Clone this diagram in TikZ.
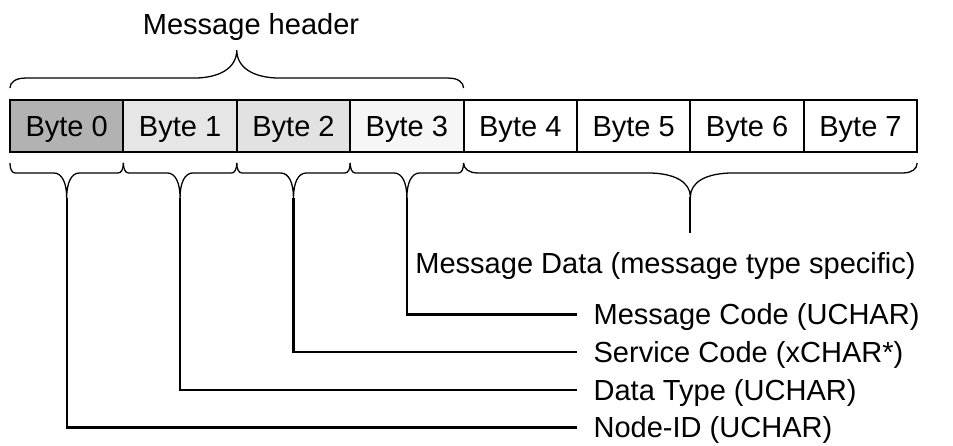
\documentclass[tikz,border=0pt]{standalone}
\usepackage{fontspec}
\setmainfont{Liberation Sans}
\usepackage{tikz}
\usetikzlibrary{calc}
\definecolor{hdrdark}{HTML}{B2B2B2}
\definecolor{hdrmid}{HTML}{E6E6E6}
\definecolor{hdrmidb}{HTML}{E2E2E2}
\definecolor{hdrlight}{HTML}{F6F6F6}
\newcommand{\fieldfont}{\fontsize{10.2}{12}\selectfont}
\tikzset{
  bytecell/.style={draw=black, line width=.7pt, minimum width=1.4cm, minimum height=.642cm,
    inner sep=0pt, outer sep=0pt, font=\fieldfont, text height=.716em, text depth=0pt},
  fieldtext/.style={font=\fieldfont, inner xsep=5.6pt, inner ysep=0pt, text height=.716em, text depth=0pt},
  leader/.style={black, line width=.75pt},
  curly/.style={black, line width=.45pt}
}
% #1,#2 end x, #3 end y, #4 signed tip height, #5 hook width, #6 middle width, #7 tip name
\newcommand{\fieldbrace}[7]{%
  \pgfmathsetmacro{\hk}{0.123*sign(#4)}%
  \pgfmathsetmacro{\xm}{(#1+#2)/2}%
  \coordinate (#7) at (\xm,#3+\hk+#4);
  \draw[curly] (#1,#3) .. controls (#1,#3+0.6*\hk) and (#1+0.4*#5,#3+\hk) .. (#1+#5,#3+\hk)
    -- (\xm-#6,#3+\hk) .. controls (\xm-0.35*#6,#3+\hk) and (\xm,#3+\hk+0.4*#4) .. (#7)
    .. controls (\xm,#3+\hk+0.4*#4) and (\xm+0.35*#6,#3+\hk) .. (\xm+#6,#3+\hk)
    -- (#2-#5,#3+\hk) .. controls (#2-0.4*#5,#3+\hk) and (#2,#3+0.6*\hk) .. (#2,#3);
}

\begin{document}
\begin{tikzpicture}
\useasboundingbox (0,0) rectangle (11.765,5.494);
\foreach \i/\shade in {0/hdrdark,1/hdrmid,2/hdrmidb,3/hdrlight,4/white,5/white,6/white,7/white}
  \node[bytecell, fill=\shade] (b\i) at (0.823+1.4*\i,3.938) {Byte \i};

\fieldbrace{0.123}{5.723}{4.407}{0.346}{0.185}{0.54}{headtip}
\foreach \i in {0,...,3} {\fieldbrace{0.123+1.4*\i}{1.523+1.4*\i}{3.482}{-0.309}{0.062}{0.16}{tip\i}}
\fieldbrace{5.723}{11.323}{3.482}{-0.296}{0.173}{0.53}{datatip}

\node[fieldtext] (header) at (3.099,5.198) {Message header};
\node[fieldtext, anchor=north, inner ysep=6.7pt] (msgdata) at (8.216,2.617) {Message Data (message type specific)};
\node[fieldtext, anchor=west] (msgcode) at (7.124,1.611) {Message Code (UCHAR)};
\node[fieldtext, anchor=west] (service) at (7.124,1.148) {Service Code (xCHAR*)};
\node[fieldtext, anchor=west] (dtype) at (7.124,0.679) {Data Type (UCHAR)};
\node[fieldtext, anchor=west] (nodeid) at (7.124,0.216) {Node-ID (UCHAR)};

\draw[leader] (datatip) -- (datatip |- msgdata.north);
\draw[leader] (tip3) |- (msgcode.west);
\draw[leader] (tip2) |- (service.west);
\draw[leader] (tip1) |- (dtype.west);
\draw[leader] (tip0) |- (nodeid.west);
\end{tikzpicture}
\end{document}
